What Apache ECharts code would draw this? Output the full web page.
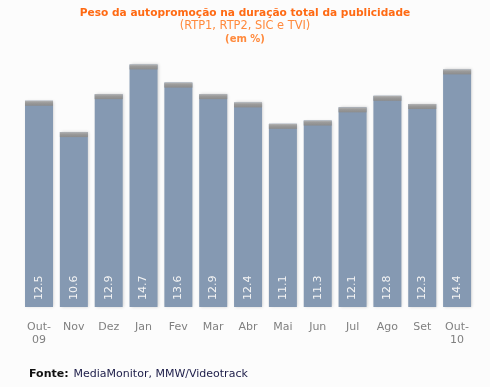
<!DOCTYPE html>
<html><head><meta charset="utf-8">
<script src="https://cdn.jsdelivr.net/npm/echarts@6/dist/echarts.min.js"></script>
<style>html,body{margin:0;padding:0;background:#fcfcfc}#c{width:490px;height:387px}</style>
</head><body><div id="c"></div>
<script>
const categories = ['Out-\n09','Nov','Dez','Jan','Fev','Mar','Abr','Mai','Jun','Jul','Ago','Set','Out-\n10'];
const values = [12.5,10.6,12.9,14.7,13.6,12.9,12.4,11.1,11.3,12.1,12.8,12.3,14.4];
const titleText = 'Peso da autopromoção na duração total da publicidade';
const subtitleText = '(RTP1, RTP2, SIC e TVI)';
const unitText = '(em %)';
const sourceLabel = 'Fonte:';
const sourceText = 'MediaMonitor, MMW/Videotrack';

const font = 'DejaVu Sans, Verdana, sans-serif';
const chart = echarts.init(document.getElementById('c'), null, {renderer:'canvas'});
chart.setOption({
  backgroundColor:'#fcfcfc',
  animation:false,
  title:[
    {text:titleText,left:'center',top:3,textStyle:{fontFamily:font,fontSize:10.6,fontWeight:'bold',color:'#ff6a13'}},
    {text:subtitleText,left:'center',top:16,textStyle:{fontFamily:font,fontSize:11.4,fontWeight:'normal',color:'#ff8a3d'}},
    {text:unitText,left:'center',top:29,textStyle:{fontFamily:font,fontSize:10,fontWeight:'bold',color:'#ff8a3d'}},
    {text:'{b|'+sourceLabel+'} {n|'+sourceText+'}',left:24,top:360,textStyle:{fontWeight:'normal',rich:{
      b:{fontFamily:font,fontSize:11,fontWeight:'bold',color:'#111'},
      n:{fontFamily:font,fontSize:11,fontWeight:'normal',color:'#1c1c48'}}}}
  ],
  grid:{left:21.6,right:15.5,top:59.5,bottom:80},
  xAxis:{type:'category',data:categories,axisLine:{show:false},axisTick:{show:false},
    axisLabel:{color:'#808080',fontFamily:font,fontSize:11,margin:14,lineHeight:13,interval:0}},
  yAxis:{type:'value',min:0,max:15,show:false,splitLine:{show:false}},
  series:[
    {type:'bar',data:values,barWidth:28,
      itemStyle:{color:'#8599b2',shadowColor:'rgba(0,0,0,0.18)',shadowBlur:3,shadowOffsetX:1},
      label:{show:true,position:'insideBottom',rotate:90,align:'left',verticalAlign:'middle',distance:7,
        color:'#f4f4f4',fontFamily:font,fontSize:11}},
    {type:'pictorialBar',data:values,symbol:'rect',symbolSize:[28,5],symbolPosition:'end',barGap:'-100%',z:3,
      itemStyle:{color:new echarts.graphic.LinearGradient(0,0,0,1,[{offset:0,color:'#b4b4b4'},{offset:0.4,color:'#9a9a9a'},{offset:1,color:'#8c8c8c'}])}}
  ]
});
</script></body></html>
